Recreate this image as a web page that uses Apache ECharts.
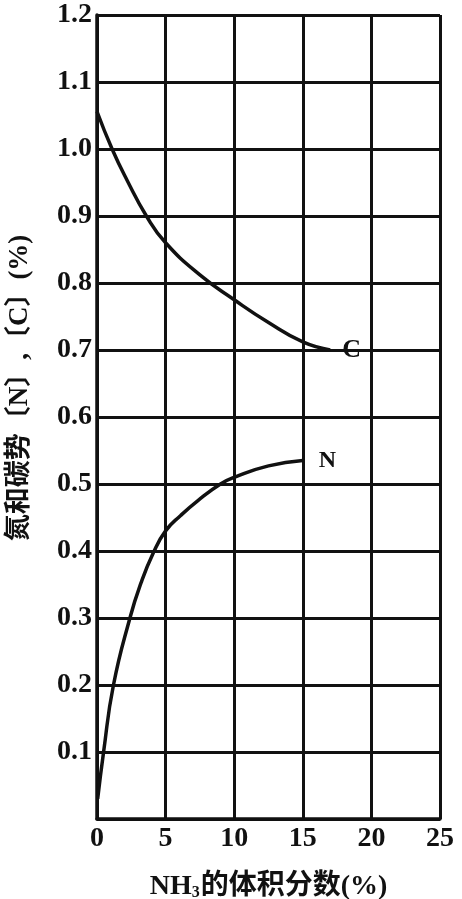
<!DOCTYPE html>
<html>
<head>
<meta charset="utf-8">
<script src="https://cdn.jsdelivr.net/npm/echarts@6/dist/echarts.min.js"></script>
<style>
html,body{margin:0;padding:0;background:#fff;}
#chart{width:462px;height:899px;}
</style>
</head>
<body>
<div id="chart"></div>
<script>
// NH3 volume fraction (%) vs potential (%)
const cX = [0, 1.1, 2.2, 3.6, 5, 7.5, 10, 12.5, 15, 17];
const cY = [1.056, 1.0, 0.953, 0.9, 0.86, 0.812, 0.775, 0.741, 0.712, 0.70];
const nX = [0.05, 0.48, 1.2, 2.4, 3.2, 4.1, 5, 6.1, 7.4, 9, 10, 12.5, 15];
const nY = [0.03, 0.1, 0.2, 0.3, 0.352, 0.397, 0.43, 0.453, 0.476, 0.5, 0.51, 0.527, 0.535];
const xTicks = [0, 5, 10, 15, 20, 25];
const yTicks = [0.1, 0.2, 0.3, 0.4, 0.5, 0.6, 0.7, 0.8, 0.9, 1.0, 1.1, 1.2];
const xTitle = 'NH₃的体积分数(%)';
const yTitle = '氮和碳势〔N〕,〔C〕(%)';

const FONT = 'Liberation Serif, "Noto Sans CJK SC", serif';
const zip = (a, b) => a.map((v, i) => [v, b[i]]);

const chart = echarts.init(document.getElementById('chart'), null, {renderer: 'canvas'});
chart.setOption({
  animation: false,
  backgroundColor: '#fff',
  grid: {left: 97, right: 22, top: 15, bottom: 80, containLabel: false, outerBoundsMode: 'none'},
  graphic: [{
    type: 'text', x: 20, y: 388, rotation: Math.PI / 2,
    style: {
      text: yTitle, fill: '#111', font: 'bold 27px ' + FONT,
      align: 'center', verticalAlign: 'middle'
    }
  }],
  xAxis: {
    type: 'value', min: 0, max: 25, interval: 5,
    name: 'NH{s|3}的体积分数(%)',
    nameLocation: 'middle', nameGap: 54,
    nameTextStyle: {
      color: '#111', fontSize: 28, fontFamily: FONT, fontWeight: 'bold',
      rich: {s: {fontSize: 16, fontFamily: FONT, fontWeight: 'bold', color: '#111', verticalAlign: 'bottom', padding: [12, 1, 0, 0]}}
    },
    axisLine: {show: true, lineStyle: {color: '#111', width: 3.5}},
    axisTick: {show: false},
    splitLine: {show: true, lineStyle: {color: '#111', width: 3}},
    axisLabel: {
      color: '#111', fontSize: 28, fontFamily: FONT, fontWeight: 'bold', margin: 6,
      formatter: v => xTicks.includes(v) ? String(v) : ''
    }
  },
  yAxis: {
    type: 'value', min: 0, max: 1.2, interval: 0.1,
    axisLine: {show: true, lineStyle: {color: '#111', width: 3.5}},
    axisTick: {show: false},
    splitLine: {show: true, lineStyle: {color: '#111', width: 3}},
    axisLabel: {
      color: '#111', fontSize: 28, fontFamily: FONT, fontWeight: 'bold', margin: 5,
      formatter: v => {
        const r = Math.round(v * 10) / 10;
        return yTicks.some(t => Math.abs(t - r) < 1e-9) ? r.toFixed(1) : '';
      }
    }
  },
  series: [
    {
      name: 'C', type: 'line', data: zip(cX, cY), smooth: 0.5, showSymbol: false,
      lineStyle: {color: '#111', width: 3.5},
      endLabel: {show: true, formatter: 'C', color: '#111', fontSize: 26, fontFamily: FONT, fontWeight: 'bold', distance: 12}
    },
    {
      name: 'N', type: 'line', data: zip(nX, nY), smooth: 0.5, showSymbol: false,
      lineStyle: {color: '#111', width: 3.5},
      endLabel: {show: true, formatter: 'N', color: '#111', fontSize: 24, fontFamily: FONT, fontWeight: 'bold', distance: 16}
    }
  ]
});
</script>
</body>
</html>
